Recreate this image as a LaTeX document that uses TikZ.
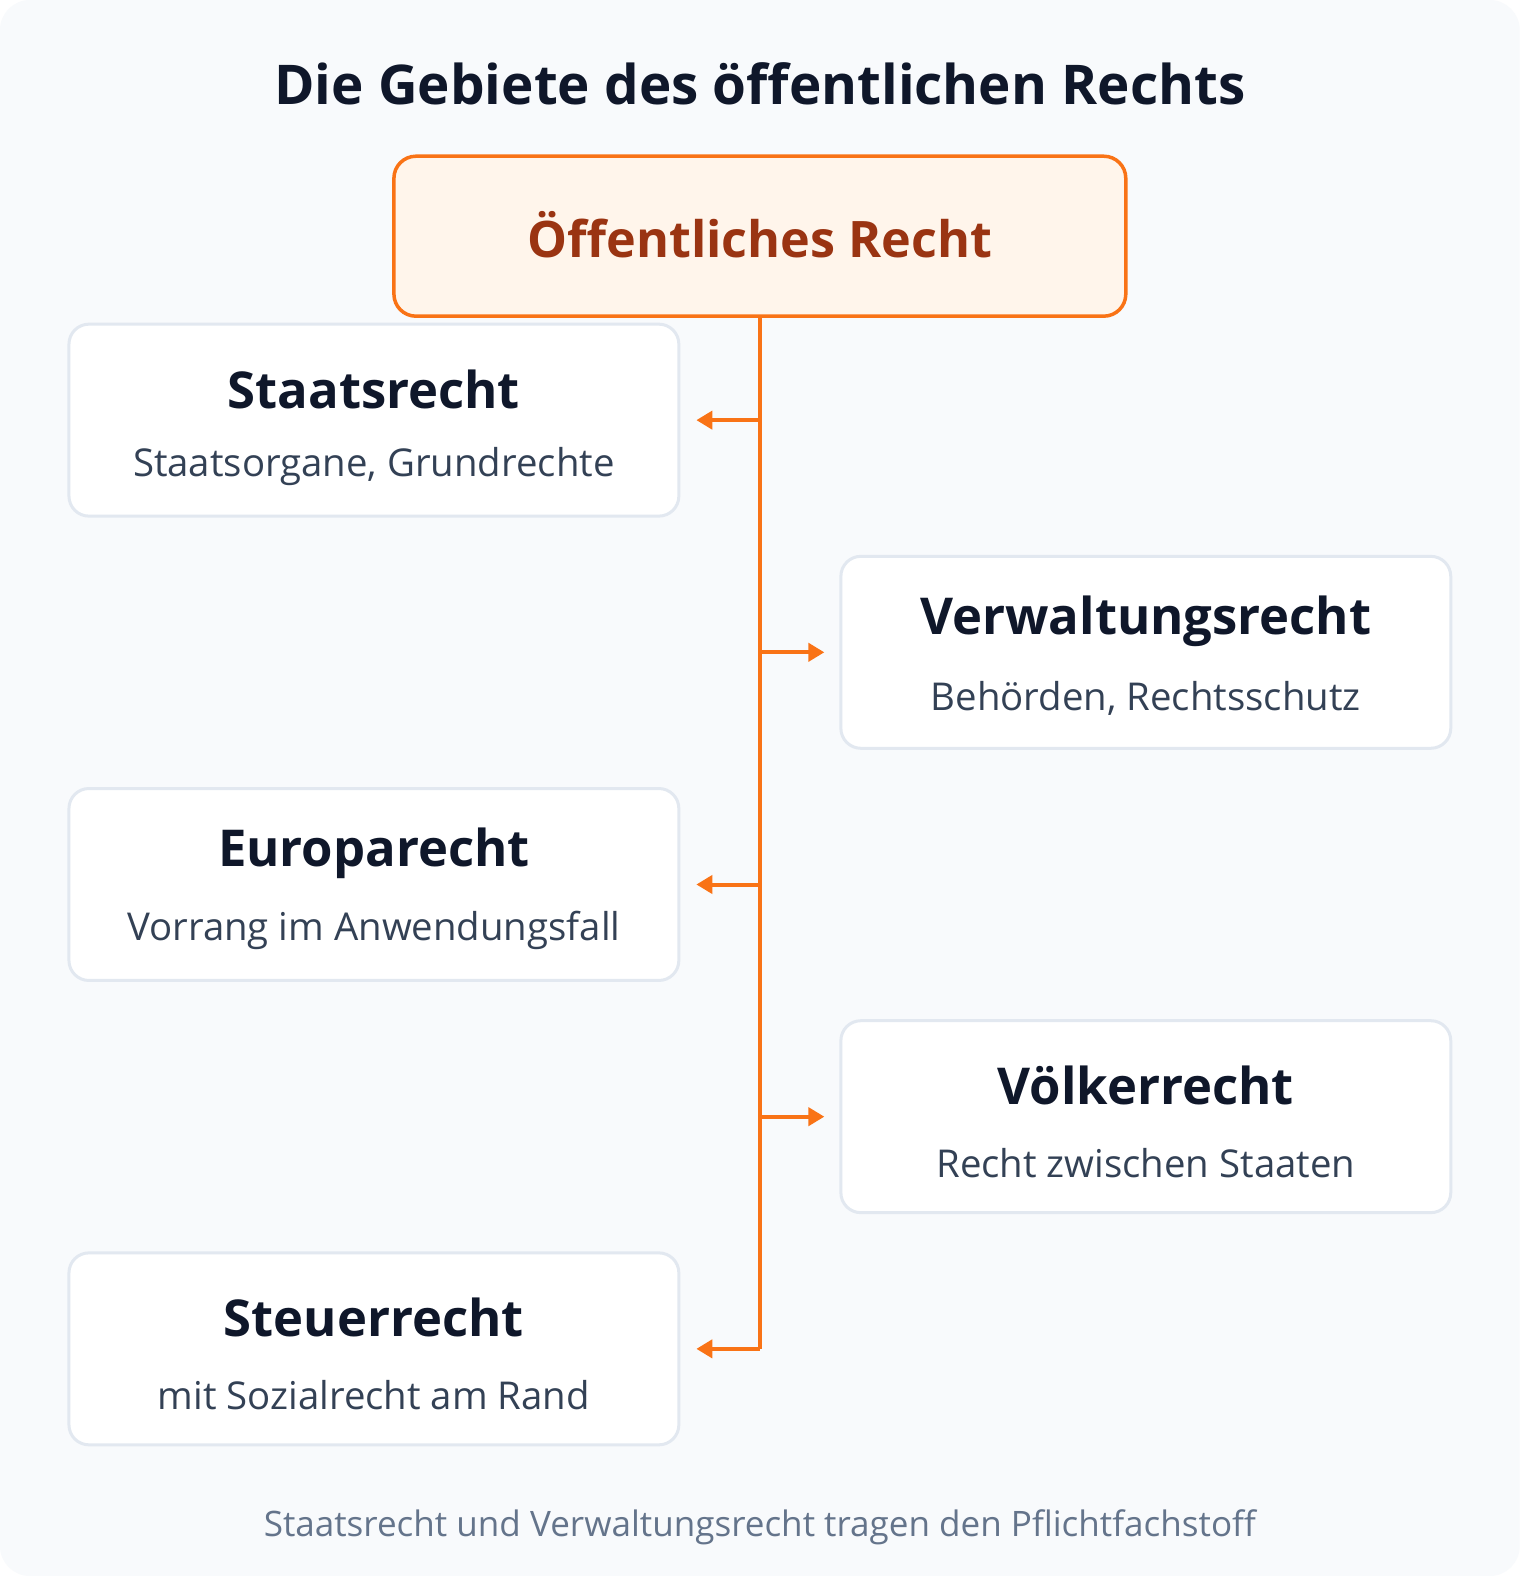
\documentclass[tikz,border=0pt]{standalone}
\usepackage{fontspec}
\setmainfont{Open Sans}
\usetikzlibrary{arrows.meta}
\definecolor{bgc}{HTML}{F8FAFC}
\definecolor{boxline}{HTML}{E2E8F0}
\definecolor{orangec}{HTML}{F97316}
\definecolor{rootfill}{HTML}{FFF5EB}
\definecolor{roottext}{HTML}{9A3412}
\definecolor{titlec}{HTML}{0F172A}
\definecolor{subc}{HTML}{334155}
\definecolor{footc}{HTML}{64748B}
\tikzset{
  areabox/.style={draw=boxline, line width=3bp, fill=white, rounded corners=20bp, minimum width=610bp, minimum height=192bp, inner sep=0pt},
  rootbox/.style={draw=orangec, line width=3.5bp, fill=rootfill, rounded corners=22bp, minimum width=732bp, minimum height=160bp, inner sep=0pt},
  boxtitle/.style={font=\fontsize{51}{56}\selectfont\bfseries, text=titlec, inner sep=0pt},
  boxsub/.style={font=\fontsize{38.5}{42}\selectfont, text=subc, inner sep=0pt},
  conn/.style={draw=orangec, line width=4bp},
  arr/.style={conn, -{Triangle[length=16bp, width=18bp]}}
}
\begin{document}
\begin{tikzpicture}[x=1.00529bp, y=-1.00529bp]
\useasboundingbox (0,0) rectangle (1512,1568);
\fill[white] (0,0) rectangle (1512,1568);
\fill[bgc, rounded corners=30bp] (0,0) rectangle (1512,1568);

\node[font=\fontsize{55}{60}\selectfont\bfseries, text=titlec, inner sep=0pt] (title) at (756,83) {Die Gebiete des öffentlichen Rechts};

\node[rootbox] (root) at (756,235) {};
\node[font=\fontsize{50.5}{56}\selectfont\bfseries, text=roottext, inner sep=0pt] (roott) at (756,233) {Öffentliches Recht};

\node[areabox] (staats) at (372,418) {};
\node[boxtitle] (staatst) at (372,387) {Staatsrecht};
\node[boxsub] (staatss) at (372,464) {Staatsorgane, Grundrechte};

\node[areabox] (verw) at (1140,649) {};
\node[boxtitle] (verwt) at (1140,618) {Verwaltungsrecht};
\node[boxsub] (verws) at (1140,695) {Behörden, Rechtsschutz};

\node[areabox] (euro) at (372,880) {};
\node[boxtitle] (eurot) at (372,849) {Europarecht};
\node[boxsub] (euros) at (372,926) {Vorrang im Anwendungsfall};

\node[areabox] (voelk) at (1140,1111) {};
\node[boxtitle] (voelkt) at (1140,1080) {Völkerrecht};
\node[boxsub] (voelks) at (1140,1157) {Recht zwischen Staaten};

\node[areabox] (steuer) at (372,1342) {};
\node[boxtitle] (steuert) at (372,1311) {Steuerrecht};
\node[boxsub] (steuers) at (372,1388) {mit Sozialrecht am Rand};

\node[font=\fontsize{35.2}{40}\selectfont, text=footc, inner sep=0pt] (foot) at (756,1520) {Staatsrecht und Verwaltungsrecht tragen den Pflichtfachstoff};

\coordinate (j1) at (root.south |- staats.east);
\coordinate (j2) at (root.south |- verw.west);
\coordinate (j3) at (root.south |- euro.east);
\coordinate (j4) at (root.south |- voelk.west);
\coordinate (j5) at (root.south |- steuer.east);

\draw[conn] (root.south) -- (j5);
\draw[arr, shorten >=16bp] (j1) -- (staats.east);
\draw[arr, shorten >=15bp] (j2) -- (verw.west);
\draw[arr, shorten >=16bp] (j3) -- (euro.east);
\draw[arr, shorten >=15bp] (j4) -- (voelk.west);
\draw[arr, shorten >=16bp] (j5) -- (steuer.east);
\end{tikzpicture}
\end{document}
